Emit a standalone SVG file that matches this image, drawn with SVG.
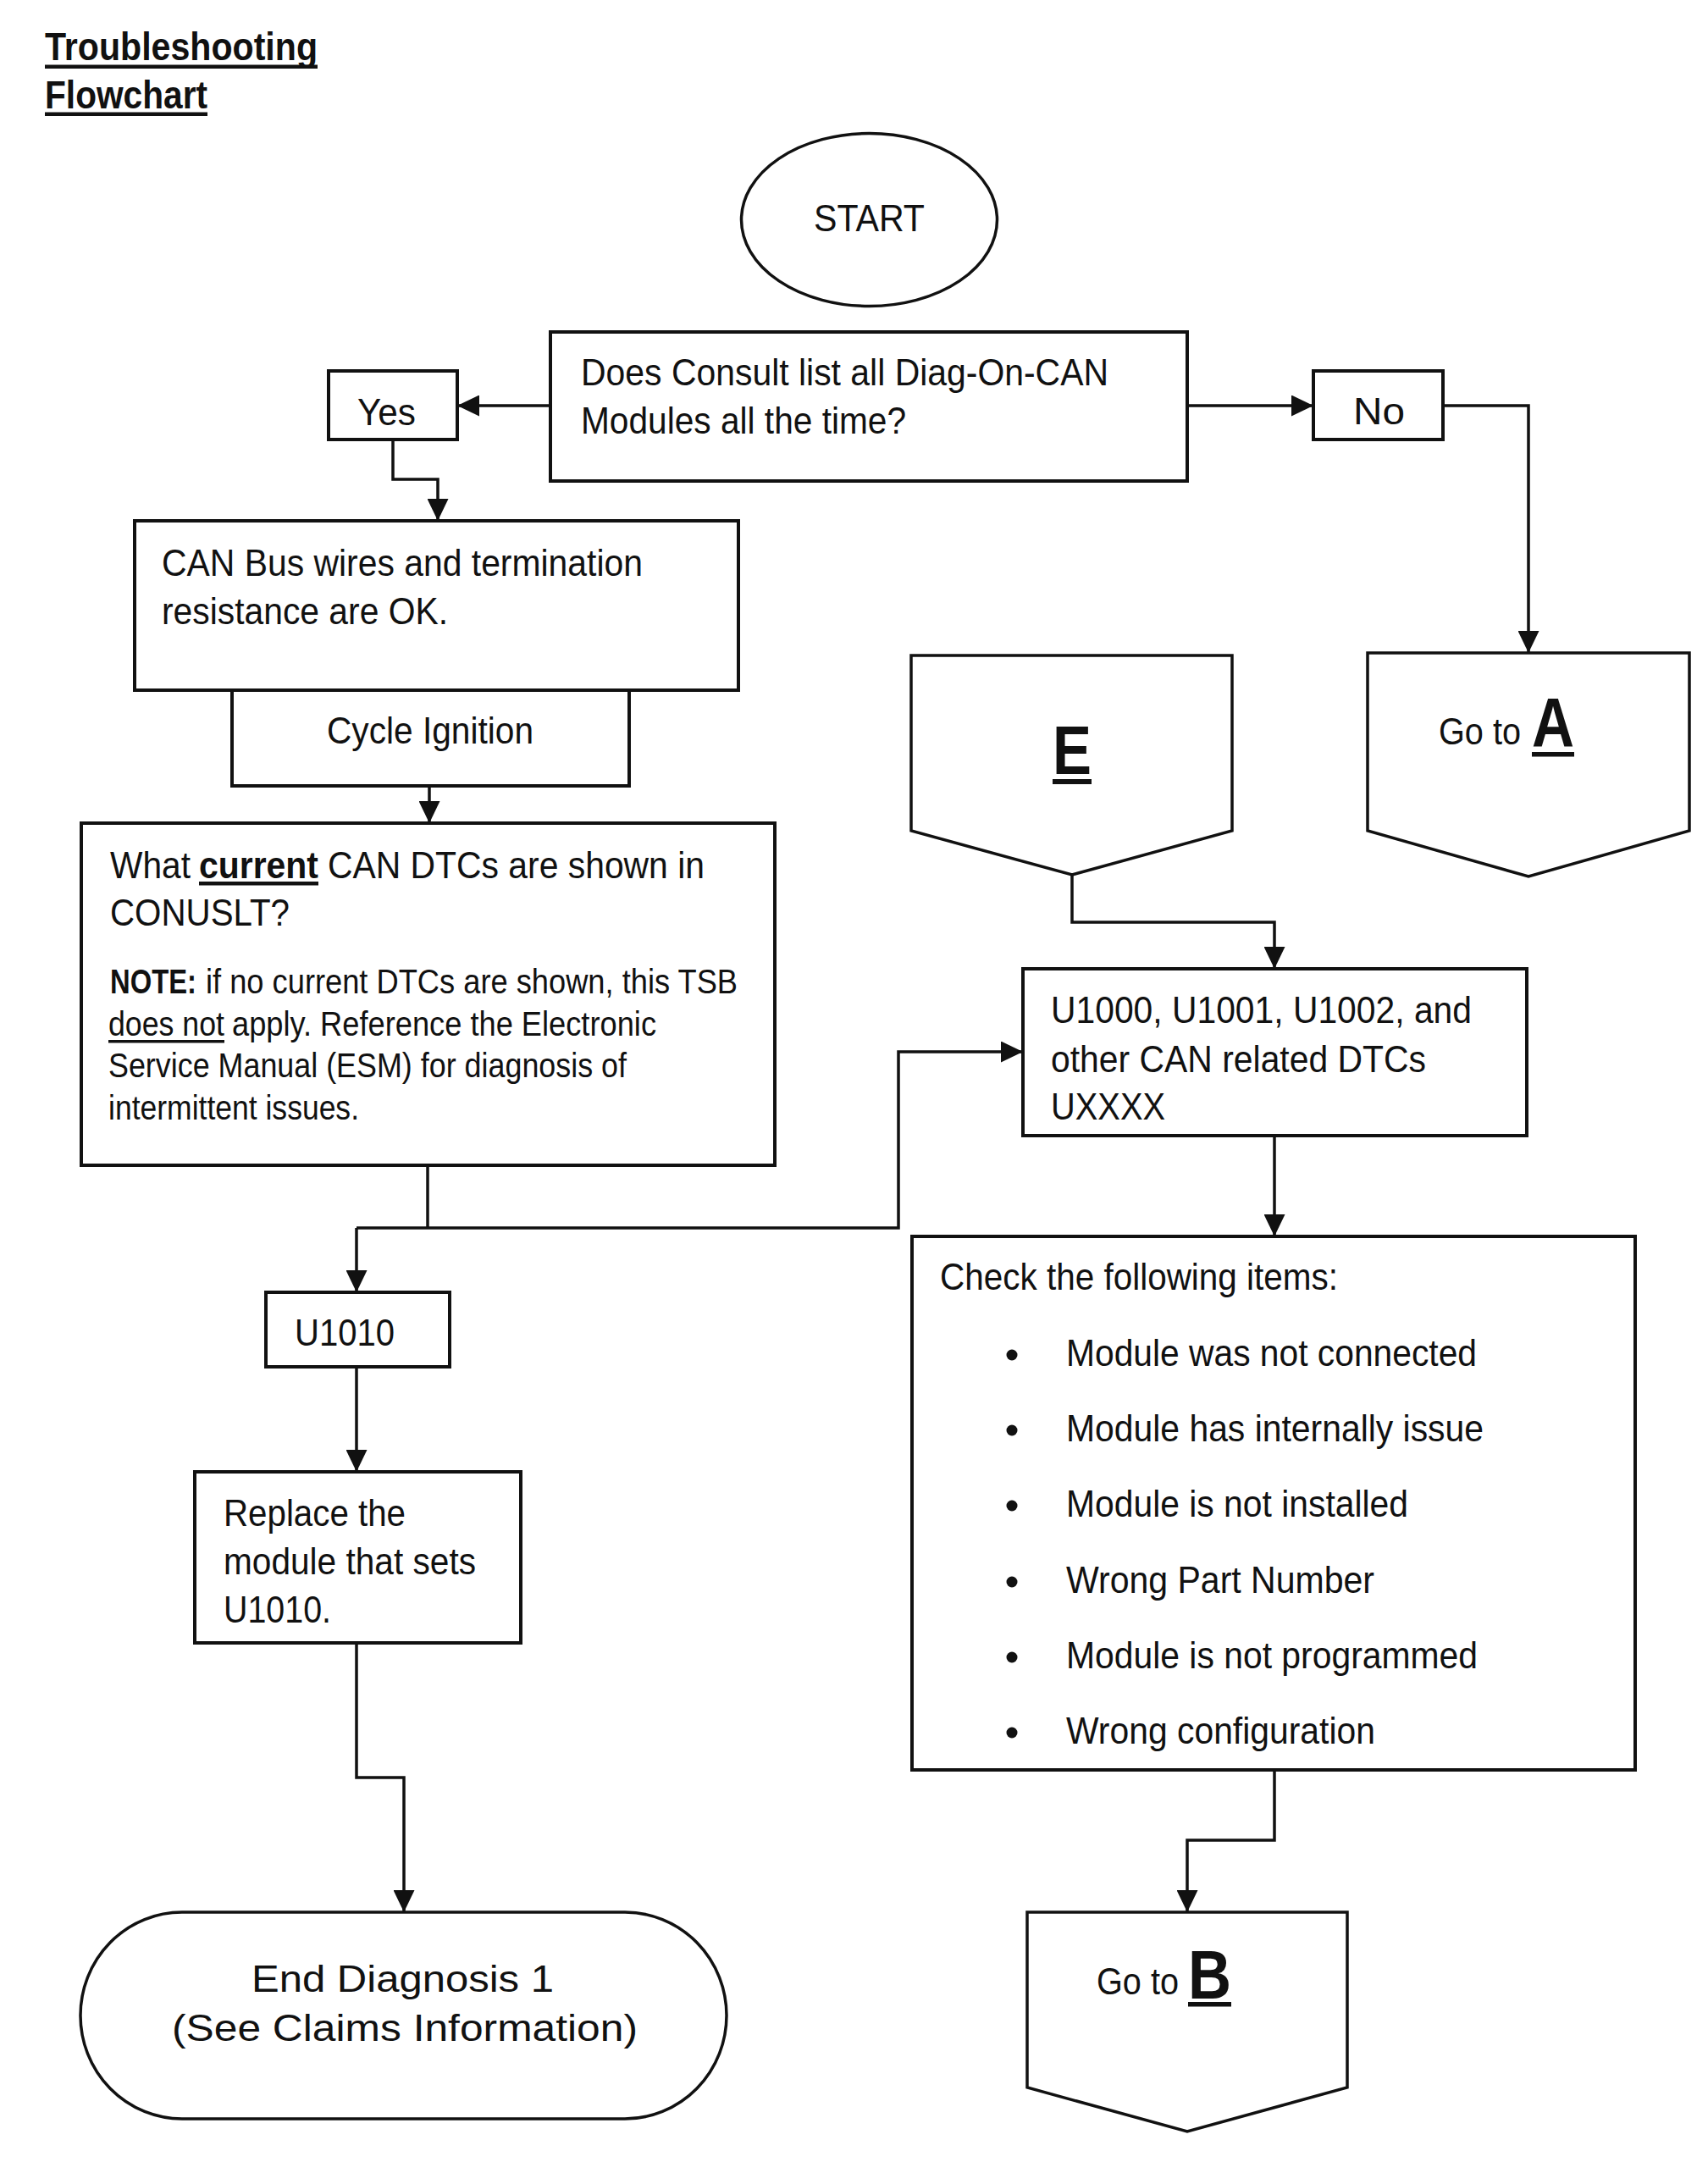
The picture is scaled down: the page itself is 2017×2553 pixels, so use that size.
<svg xmlns="http://www.w3.org/2000/svg" width="2017" height="2553" viewBox="0 0 2017 2553">
<style>
  text { font-family: "Liberation Sans", Arial, sans-serif; fill: #111; }
  .t { font-size: 44px; }
  .n { font-size: 40px; }
  .b { font-weight: bold; }
  .big { font-size: 82px; font-weight: bold; }
  .title { font-size: 46px; font-weight: bold; }
  .box { fill: #fff; stroke: #111; stroke-width: 4; }
  .shape { fill: #fff; stroke: #111; stroke-width: 3.5; }
  .conn { fill: none; stroke: #111; stroke-width: 3.5; }
  .ul { fill: #111; }
</style>
<defs>
  <marker id="arr" markerUnits="userSpaceOnUse" markerWidth="26" markerHeight="25" refX="26" refY="12.5" orient="auto">
    <path d="M0,0 L26,12.5 L0,25 Z" fill="#111"/>
  </marker>
</defs>
<rect width="2017" height="2553" fill="#fff"/>

<g id="title">
  <text class="title" x="53" y="71" textLength="322" lengthAdjust="spacingAndGlyphs">Troubleshooting</text>
  <rect class="ul" x="53" y="76.5" width="322" height="4.5"/>
  <text class="title" x="53" y="128" textLength="192" lengthAdjust="spacingAndGlyphs">Flowchart</text>
  <rect class="ul" x="53" y="132.5" width="192" height="4.5"/>
</g>

<g id="connectors">
  <path class="conn" d="M650,479 L540,479" marker-end="url(#arr)"/>
  <path class="conn" d="M1402,479 L1551,479" marker-end="url(#arr)"/>
  <path class="conn" d="M1704,479 L1805,479 L1805,771" marker-end="url(#arr)"/>
  <path class="conn" d="M464,519 L464,566 L517,566 L517,615" marker-end="url(#arr)"/>
  <path class="conn" d="M507,928 L507,972" marker-end="url(#arr)"/>
  <path class="conn" d="M505,1376 L505,1450"/>
  <path class="conn" d="M421,1450 L1061,1450 L1061,1242 L1208,1242" marker-end="url(#arr)"/>
  <path class="conn" d="M421,1450 L421,1526" marker-end="url(#arr)"/>
  <path class="conn" d="M421,1614 L421,1738" marker-end="url(#arr)"/>
  <path class="conn" d="M421,1940 L421,2099 L477,2099 L477,2258" marker-end="url(#arr)"/>
  <path class="conn" d="M1266,1033 L1266,1089 L1505,1089 L1505,1144" marker-end="url(#arr)"/>
  <path class="conn" d="M1505,1341 L1505,1460" marker-end="url(#arr)"/>
  <path class="conn" d="M1505,2090 L1505,2173 L1402,2173 L1402,2258" marker-end="url(#arr)"/>
</g>

<g id="start">
  <ellipse class="shape" cx="1026.5" cy="259.5" rx="151" ry="102" stroke-width="3"/>
  <text class="t" x="961" y="273" font-size="46" textLength="131" lengthAdjust="spacingAndGlyphs">START</text>
</g>

<g id="decision">
  <rect class="box" x="650" y="392" width="752" height="176"/>
  <text class="t" x="686" y="455" textLength="623" lengthAdjust="spacingAndGlyphs">Does Consult list all Diag-On-CAN</text>
  <text class="t" x="686" y="512" textLength="384" lengthAdjust="spacingAndGlyphs">Modules all the time?</text>
</g>

<g id="yes">
  <rect class="box" x="388" y="438" width="152" height="81"/>
  <text class="t" x="422" y="502" textLength="69" lengthAdjust="spacingAndGlyphs">Yes</text>
</g>

<g id="no">
  <rect class="box" x="1551" y="438" width="153" height="81"/>
  <text class="t" x="1598" y="501" textLength="61" lengthAdjust="spacingAndGlyphs">No</text>
</g>

<g id="goto-a">
  <path class="shape" d="M1615,771 L1995,771 L1995,981 L1805,1035 L1615,981 Z"/>
  <text class="t" x="1699" y="879" textLength="97" lengthAdjust="spacingAndGlyphs">Go to</text>
  <text class="big" x="1809" y="881" textLength="50" lengthAdjust="spacingAndGlyphs">A</text>
  <rect class="ul" x="1809" y="888" width="50" height="5.5"/>
</g>

<g id="can-bus">
  <rect class="box" x="159" y="615" width="713" height="200"/>
  <text class="t" x="191" y="680" textLength="568" lengthAdjust="spacingAndGlyphs">CAN Bus wires and termination</text>
  <text class="t" x="191" y="737" textLength="338" lengthAdjust="spacingAndGlyphs">resistance are OK.</text>
</g>

<g id="cycle">
  <rect class="box" x="274" y="815" width="469" height="113"/>
  <text class="t" x="386" y="878" textLength="244" lengthAdjust="spacingAndGlyphs">Cycle Ignition</text>
</g>

<g id="e-connector">
  <path class="shape" d="M1076,774 L1455,774 L1455,981 L1266,1033 L1076,981 Z"/>
  <text class="big" x="1243" y="914" textLength="46" lengthAdjust="spacingAndGlyphs">E</text>
  <rect class="ul" x="1243" y="920" width="46" height="6"/>
</g>

<g id="what-dtcs">
  <rect class="box" x="96" y="972" width="819" height="404"/>
  <text class="t" x="130" y="1037" textLength="95" lengthAdjust="spacingAndGlyphs">What</text>
  <text class="t b" x="235" y="1037" textLength="141" lengthAdjust="spacingAndGlyphs">current</text>
  <rect class="ul" x="235" y="1041" width="141" height="4.5"/>
  <text class="t" x="387" y="1037" textLength="445" lengthAdjust="spacingAndGlyphs">CAN DTCs are shown in</text>
  <text class="t" x="130" y="1093" textLength="212" lengthAdjust="spacingAndGlyphs">CONUSLT?</text>
  <text class="n b" x="130" y="1173" textLength="102" lengthAdjust="spacingAndGlyphs">NOTE:</text>
  <text class="n" x="243" y="1173" textLength="628" lengthAdjust="spacingAndGlyphs">if no current DTCs are shown, this TSB</text>
  <text class="n" x="128" y="1223" textLength="137" lengthAdjust="spacingAndGlyphs">does not</text>
  <rect class="ul" x="128" y="1228" width="137" height="3.5"/>
  <text class="n" x="274" y="1223" textLength="501" lengthAdjust="spacingAndGlyphs">apply. Reference the Electronic</text>
  <text class="n" x="128" y="1272" textLength="612" lengthAdjust="spacingAndGlyphs">Service Manual (ESM) for diagnosis of</text>
  <text class="n" x="128" y="1322" textLength="296" lengthAdjust="spacingAndGlyphs">intermittent issues.</text>
</g>

<g id="u1000">
  <rect class="box" x="1208" y="1144" width="595" height="197"/>
  <text class="t" x="1241" y="1208" textLength="497" lengthAdjust="spacingAndGlyphs">U1000, U1001, U1002, and</text>
  <text class="t" x="1241" y="1266" textLength="443" lengthAdjust="spacingAndGlyphs">other CAN related DTCs</text>
  <text class="t" x="1241" y="1322" textLength="135" lengthAdjust="spacingAndGlyphs">UXXXX</text>
</g>

<g id="u1010">
  <rect class="box" x="314" y="1526" width="217" height="88"/>
  <text class="t" x="348" y="1589" textLength="118" lengthAdjust="spacingAndGlyphs">U1010</text>
</g>

<g id="check">
  <rect class="box" x="1077" y="1460" width="854" height="630"/>
  <text class="t" x="1110" y="1523" textLength="470" lengthAdjust="spacingAndGlyphs">Check the following items:</text>
  <circle cx="1195" cy="1600" r="6.5" fill="#111"/>
  <text class="t" x="1259" y="1613" textLength="485" lengthAdjust="spacingAndGlyphs">Module was not connected</text>
  <circle cx="1195" cy="1689" r="6.5" fill="#111"/>
  <text class="t" x="1259" y="1702" textLength="493" lengthAdjust="spacingAndGlyphs">Module has internally issue</text>
  <circle cx="1195" cy="1778" r="6.5" fill="#111"/>
  <text class="t" x="1259" y="1791" textLength="404" lengthAdjust="spacingAndGlyphs">Module is not installed</text>
  <circle cx="1195" cy="1868" r="6.5" fill="#111"/>
  <text class="t" x="1259" y="1881" textLength="364" lengthAdjust="spacingAndGlyphs">Wrong Part Number</text>
  <circle cx="1195" cy="1957" r="6.5" fill="#111"/>
  <text class="t" x="1259" y="1970" textLength="486" lengthAdjust="spacingAndGlyphs">Module is not programmed</text>
  <circle cx="1195" cy="2046" r="6.5" fill="#111"/>
  <text class="t" x="1259" y="2059" textLength="365" lengthAdjust="spacingAndGlyphs">Wrong configuration</text>
</g>

<g id="replace">
  <rect class="box" x="230" y="1738" width="385" height="202"/>
  <text class="t" x="264" y="1802" textLength="215" lengthAdjust="spacingAndGlyphs">Replace the</text>
  <text class="t" x="264" y="1859" textLength="298" lengthAdjust="spacingAndGlyphs">module that sets</text>
  <text class="t" x="264" y="1916" textLength="127" lengthAdjust="spacingAndGlyphs">U1010.</text>
</g>

<g id="end">
  <rect class="shape" x="95" y="2258" width="763" height="244" rx="120" ry="122" stroke-width="3"/>
  <text class="t" x="297" y="2352" font-size="46" textLength="357" lengthAdjust="spacingAndGlyphs">End Diagnosis 1</text>
  <text class="t" x="203" y="2410" font-size="46" textLength="550" lengthAdjust="spacingAndGlyphs">(See Claims Information)</text>
</g>

<g id="goto-b">
  <path class="shape" d="M1213,2258 L1591,2258 L1591,2465 L1402,2517 L1213,2465 Z"/>
  <text class="t" x="1295" y="2355" textLength="97" lengthAdjust="spacingAndGlyphs">Go to</text>
  <text class="big" x="1403" y="2360" textLength="51" lengthAdjust="spacingAndGlyphs">B</text>
  <rect class="ul" x="1403" y="2364" width="51" height="5.5"/>
</g>
</svg>
